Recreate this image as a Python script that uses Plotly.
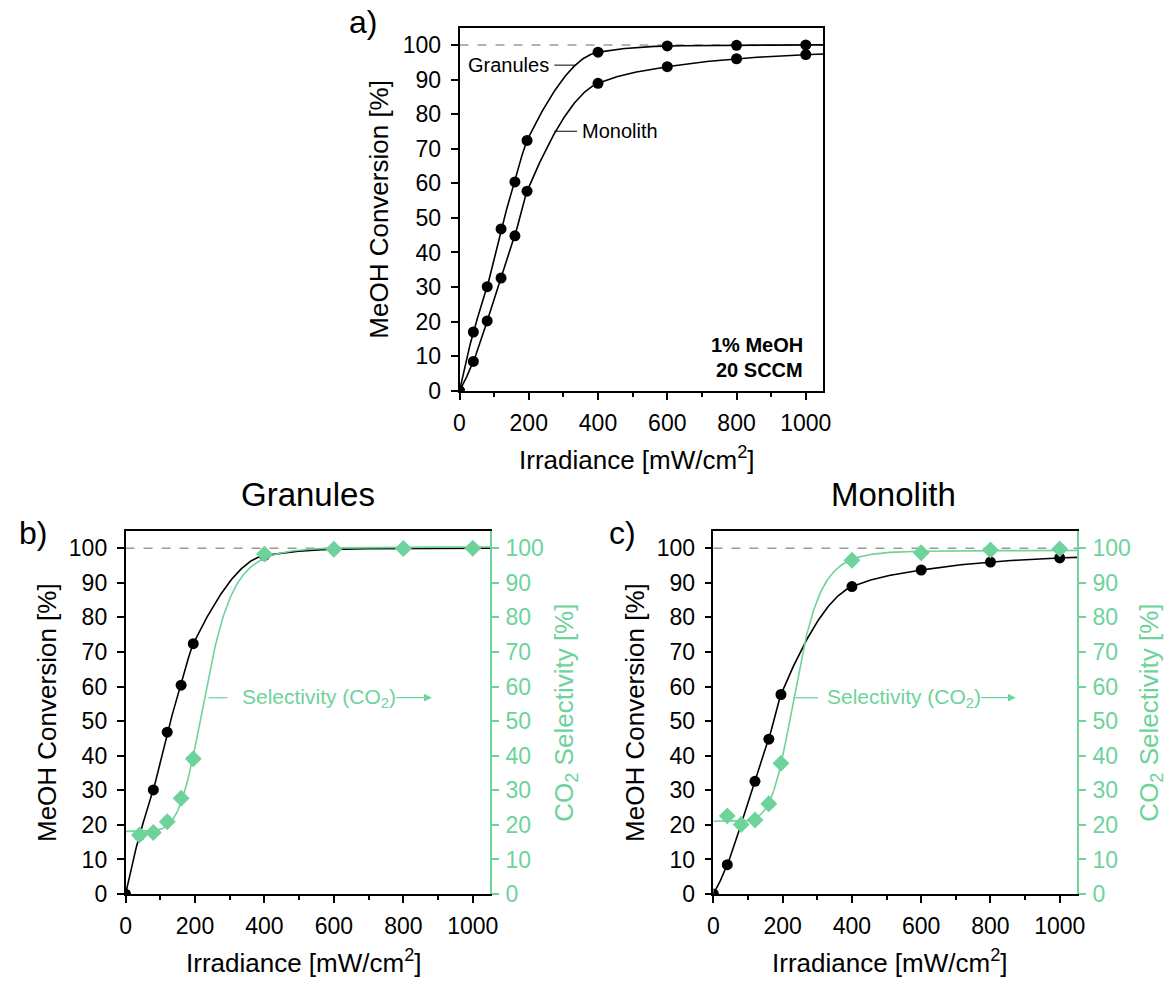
import numpy as np
import plotly.graph_objects as go

# ---- measured data -------------------------------------------------------
irradiance = [0, 40, 80, 120, 160, 195, 400, 600, 800, 1000]          # mW/cm2
conv_granules = [0, 17.0, 30.1, 46.8, 60.4, 72.4, 97.9, 99.7, 99.9, 100.0]
conv_monolith = [0, 8.5, 20.2, 32.6, 44.8, 57.7, 88.9, 93.7, 96.0, 97.2]

sel_irradiance = [40, 80, 120, 160, 195, 400, 600, 800, 1000]
sel_granules = [17.1, 17.8, 20.9, 27.7, 39.1, 98.3, 99.7, 99.9, 100.0]
sel_monolith = [22.6, 20.1, 21.4, 26.1, 37.8, 96.5, 98.7, 99.5, 99.8]

x_ticks = [0, 200, 400, 600, 800, 1000]
y_ticks = list(range(0, 101, 10))

BLACK = "#000000"
GREEN = "#6dd39b"
GREY = "#9a9a9a"
FONT = "Liberation Sans, Arial, sans-serif"
W, H = 1170, 988
X_MAX, Y_MAX = 1050, 105


# ---- curve helpers -------------------------------------------------------
def pchip(x, y, xq):
    """Monotone cubic (Fritsch-Carlson) interpolation, linear beyond the last point."""
    x = np.asarray(x, float)
    y = np.asarray(y, float)
    xq = np.asarray(xq, float)
    h = np.diff(x)
    d = np.diff(y) / h
    m = np.zeros_like(y)
    for k in range(1, len(x) - 1):
        if d[k - 1] * d[k] > 0:
            w1 = 2 * h[k] + h[k - 1]
            w2 = h[k] + 2 * h[k - 1]
            m[k] = (w1 + w2) / (w1 / d[k - 1] + w2 / d[k])

    def end_slope(h0, h1, d0, d1):
        s = ((2 * h0 + h1) * d0 - h0 * d1) / (h0 + h1)
        if np.sign(s) != np.sign(d0):
            return 0.0
        if np.sign(d0) != np.sign(d1) and abs(s) > abs(3 * d0):
            return 3 * d0
        return s

    m[0] = end_slope(h[0], h[1], d[0], d[1])
    m[-1] = end_slope(h[-1], h[-2], d[-1], d[-2])

    idx = np.clip(np.searchsorted(x, xq) - 1, 0, len(x) - 2)
    t = np.clip((xq - x[idx]) / h[idx], 0, 1)
    h00 = 2 * t**3 - 3 * t**2 + 1
    h10 = t**3 - 2 * t**2 + t
    h01 = -2 * t**3 + 3 * t**2
    h11 = t**3 - t**2
    out = (h00 * y[idx] + h10 * h[idx] * m[idx]
           + h01 * y[idx + 1] + h11 * h[idx] * m[idx + 1])
    beyond = xq > x[-1]
    out[beyond] = y[-1] + m[-1] * (xq[beyond] - x[-1])
    return out


def fit_logistic(x, y):
    """Least-squares 4-parameter logistic: y = A1 + (A2-A1) / (1 + (x0/x)^p)."""
    x = np.asarray(x, float)
    y = np.asarray(y, float)
    x0_grid = np.arange(100.0, 500.5, 0.5)
    best = (np.inf, None)
    for p in np.arange(1.0, 16.0, 0.05):
        f = 1.0 / (1.0 + (x0_grid[:, None] / x[None, :]) ** p)
        u = 1.0 - f
        suu, svv, suv = (u * u).sum(1), (f * f).sum(1), (u * f).sum(1)
        suy, svy = (u * y).sum(1), (f * y).sum(1)
        det = suu * svv - suv**2
        a1 = (svv * suy - suv * svy) / det
        a2 = (suu * svy - suv * suy) / det
        sse = ((a1[:, None] * u + a2[:, None] * f - y[None, :]) ** 2).sum(1)
        i = int(np.argmin(sse))
        if sse[i] < best[0]:
            best = (sse[i], (a1[i], a2[i], x0_grid[i], p))
    return best[1]


def logistic(params, xq):
    a1, a2, x0, p = params
    xq = np.asarray(xq, float)
    f = np.zeros_like(xq)
    pos = xq > 0
    f[pos] = 1.0 / (1.0 + (x0 / xq[pos]) ** p)
    return a1 + (a2 - a1) * f


xs = np.linspace(0, X_MAX, 600)
conv_g_curve = pchip(irradiance, conv_granules, xs)
conv_m_curve = pchip(irradiance, conv_monolith, xs)
sel_g_curve = logistic(fit_logistic(sel_irradiance, sel_granules), xs)
sel_m_curve = logistic(fit_logistic(sel_irradiance, sel_monolith), xs)


# ---- layout helpers ------------------------------------------------------
def px(xp):
    return xp / W


def py(yp):
    return 1 - yp / H


tick_font = dict(family=FONT, size=23, color=BLACK)


def x_axis(domain, anchor):
    return dict(
        domain=domain, anchor=anchor, range=[0, X_MAX],
        tickmode="array", tickvals=x_ticks, ticktext=[str(v) for v in x_ticks],
        ticks="outside", ticklen=7, tickwidth=1.5, tickcolor=BLACK,
        minor=dict(ticks="outside", ticklen=4, tickwidth=1.5, tickcolor=BLACK,
                   tickvals=[100, 300, 500, 700, 900]),
        showline=True, linecolor=BLACK, linewidth=1.5, mirror=True,
        showgrid=False, zeroline=False, tickfont=tick_font, ticklabelstandoff=4,
    )


def y_axis(domain, anchor, mirror):
    return dict(
        domain=domain, anchor=anchor, range=[0, Y_MAX],
        tickmode="array", tickvals=y_ticks, ticktext=[str(v) for v in y_ticks],
        ticks="outside", ticklen=7, tickwidth=1.5, tickcolor=BLACK,
        showline=True, linecolor=BLACK, linewidth=1.5, mirror=mirror,
        showgrid=False, zeroline=False, tickfont=tick_font, ticklabelstandoff=5,
    )


def y_right(domain, anchor, overlay):
    return dict(
        domain=domain, anchor=anchor, overlaying=overlay, side="right",
        range=[0, Y_MAX], tickmode="array", tickvals=y_ticks,
        ticktext=[str(v) for v in y_ticks],
        ticks="outside", ticklen=7, tickwidth=1.5, tickcolor=GREEN,
        showline=True, linecolor=GREEN, linewidth=1.5,
        showgrid=False, zeroline=False,
        tickfont=dict(family=FONT, size=23, color=GREEN), ticklabelstandoff=2,
    )


dom_a_x = [px(459), px(827)]
dom_a_y = [py(396), py(28)]
dom_b_x = [px(121), px(490)]
dom_c_x = [px(716), px(1084)]
dom_bc_y = [py(906), py(538)]

fig = go.Figure()


def curve(x, y, xa, ya, color):
    fig.add_trace(go.Scatter(x=x, y=y, xaxis=xa, yaxis=ya, mode="lines",
                             line=dict(color=color, width=1.6),
                             hoverinfo="skip", showlegend=False))


def points(x, y, xa, ya, color, symbol, size):
    fig.add_trace(go.Scatter(x=x, y=y, xaxis=xa, yaxis=ya, mode="markers",
                             marker=dict(color=color, symbol=symbol, size=size,
                                         line=dict(width=0)),
                             showlegend=False))


# panel a: both conversions
curve(xs, conv_g_curve, "x", "y", BLACK)
curve(xs, conv_m_curve, "x", "y", BLACK)
points(irradiance, conv_granules, "x", "y", BLACK, "circle", 11)
points(irradiance, conv_monolith, "x", "y", BLACK, "circle", 11)

# panel b: granules conversion + selectivity
curve(xs, conv_g_curve, "x2", "y2", BLACK)
curve(xs, sel_g_curve, "x2", "y3", GREEN)
points(irradiance, conv_granules, "x2", "y2", BLACK, "circle", 11)
points(sel_irradiance, sel_granules, "x2", "y3", GREEN, "diamond", 13)

# panel c: monolith conversion + selectivity
curve(xs, conv_m_curve, "x3", "y4", BLACK)
curve(xs, sel_m_curve, "x3", "y5", GREEN)
points(irradiance, conv_monolith, "x3", "y4", BLACK, "circle", 11)
points(sel_irradiance, sel_monolith, "x3", "y5", GREEN, "diamond", 13)

# dashed 100 % reference line in every panel
shapes = []
for xa, ya in [("x", "y"), ("x2", "y2"), ("x3", "y4")]:
    shapes.append(dict(type="line", xref=f"{xa} domain", x0=0, x1=1,
                       yref=ya, y0=100, y1=100, layer="below",
                       line=dict(color=GREY, width=1.5, dash="dash")))

# label leader lines (page positions)
LABEL_Y = py(707)
shapes += [
    dict(type="line", xref="paper", yref="paper", x0=px(555), x1=px(577),
         y0=py(66), y1=py(66), line=dict(color=BLACK, width=1)),
    dict(type="line", xref="paper", yref="paper", x0=px(555), x1=px(578),
         y0=py(133), y1=py(133), line=dict(color=BLACK, width=1)),
    dict(type="line", xref="paper", yref="paper", x0=px(205), x1=px(224),
         y0=LABEL_Y, y1=LABEL_Y, line=dict(color=GREEN, width=1.2)),
    dict(type="line", xref="paper", yref="paper", x0=px(797), x1=px(822),
         y0=LABEL_Y, y1=LABEL_Y, line=dict(color=GREEN, width=1.2)),
]

ann = []


def text(x, y, s, size, color=BLACK, angle=0, xanchor="center", yanchor="middle",
         xref="paper", yref="paper"):
    ann.append(dict(x=x, y=y, xref=xref, yref=yref, text=s, showarrow=False,
                    textangle=angle, xanchor=xanchor, yanchor=yanchor,
                    font=dict(family=FONT, size=size, color=color)))


# panel letters and titles
text(px(361), py(22), "a)", 32)
text(px(27), py(540), "b)", 32)
text(px(624), py(540), "c)", 32)
text(px(306), py(501), "Granules", 33)
text(px(898), py(501), "Monolith", 33)

# axis titles
conv_title = "MeOH Conversion [%]"
sel_title = "CO<sub>2</sub> Selectivity [%]"
irr_title = "Irradiance [mW/cm<sup>2</sup>]"
text(px(378), py(212), conv_title, 26, angle=-90)
text(px(639), py(465), irr_title, 26)
text(px(41), py(722), conv_title, 26, angle=-90)
text(px(566), py(722), sel_title, 26, color=GREEN, angle=-90)
text(px(302), py(974), irr_title, 26)
text(px(636), py(722), conv_title, 26, angle=-90)
text(px(1158), py(722), sel_title, 26, color=GREEN, angle=-90)
text(px(895), py(974), irr_title, 26)

# in-plot labels, panel a
text(px(552), py(66), "Granules", 20, xanchor="right")
text(px(581), py(133), "Monolith", 20, xanchor="left")
text(px(809), py(350), "<b>1% MeOH</b>", 20, xanchor="right")
text(px(809), py(375), "<b>20 SCCM</b>", 20, xanchor="right")

# selectivity labels with arrows, panels b and c
text(px(237), LABEL_Y, "Selectivity (CO<sub>2</sub>)", 21, color=GREEN,
     xanchor="left")
text(px(829), LABEL_Y, "Selectivity (CO<sub>2</sub>)", 21, color=GREEN,
     xanchor="left")
for tail, head in [(394, 431), (986, 1022)]:
    ann.append(dict(x=px(head), y=LABEL_Y, xref="paper", yref="paper",
                    ax=tail - head, ay=0, axref="pixel", ayref="pixel",
                    text="", showarrow=True, arrowhead=2, arrowsize=1.2,
                    arrowwidth=1.3, arrowcolor=GREEN))

fig.update_layout(
    width=W, height=H, autosize=False, margin=dict(l=0, r=0, t=0, b=0),
    paper_bgcolor="white", plot_bgcolor="white", showlegend=False,
    font=dict(family=FONT, color=BLACK),
    xaxis=x_axis(dom_a_x, "y"),
    yaxis=y_axis(dom_a_y, "x", True),
    xaxis2=x_axis(dom_b_x, "y2"),
    yaxis2=y_axis(dom_bc_y, "x2", False),
    yaxis3=y_right(dom_bc_y, "x2", "y2"),
    xaxis3=x_axis(dom_c_x, "y4"),
    yaxis4=y_axis(dom_bc_y, "x3", False),
    yaxis5=y_right(dom_bc_y, "x3", "y4"),
    shapes=shapes, annotations=ann,
)

# keep the page exactly the size of the figure
page_css = ("margin:0;padding:0;overflow:hidden;"
            f"width:{W}px;height:{H}px;")
fig.write_html(
    "out.html",
    config={"displayModeBar": False},
    post_script=(f"document.documentElement.style.cssText='{page_css}';"
                 f"document.body.style.cssText='{page_css}';"),
)
